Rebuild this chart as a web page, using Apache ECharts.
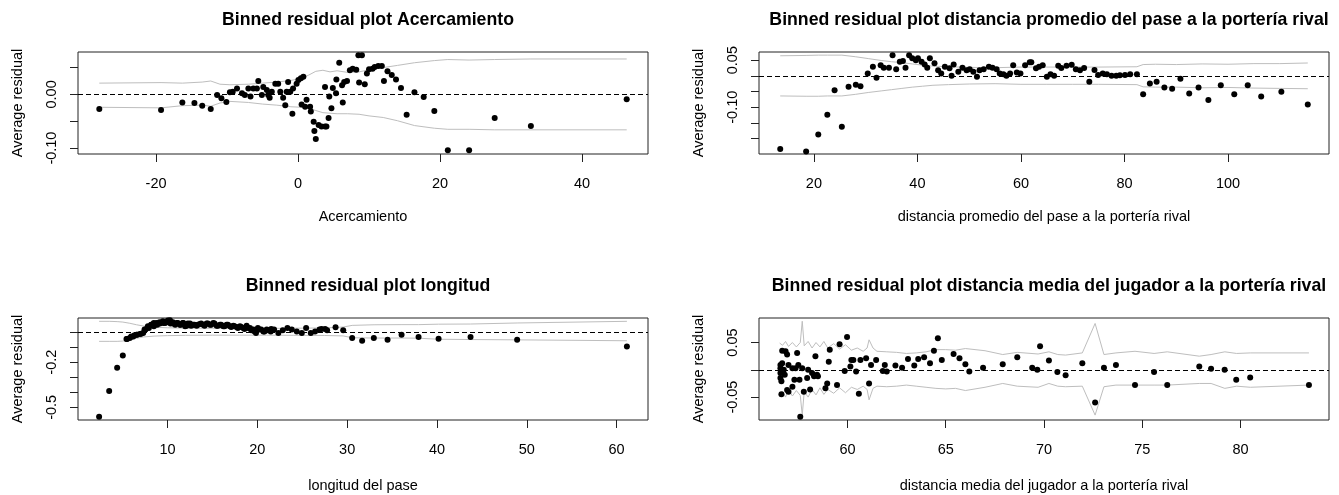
<!DOCTYPE html>
<html>
<head>
<meta charset="utf-8">
<script src="https://cdn.jsdelivr.net/npm/echarts@6/dist/echarts.min.js"></script>
<style>html,body{margin:0;padding:0;background:#fff;}#c{width:1339px;height:495px;}</style>
</head>
<body>
<div id="c"></div>
<script>
// ---------- Panel 1: Acercamiento ----------
const acerX = [-28.0,-19.3,-16.3,-14.6,-13.5,-12.3,-11.4,-10.8,-10.1,-9.6,-9.2,-8.6,-7.9,-7.5,-7.0,-6.7,-6.3,-5.8,-5.6,-5.1,-4.9,-4.4,-4.2,-4.0,-3.7,-3.2,-2.8,-2.5,-2.1,-1.8,-1.6,-1.4,-1.1,-0.8,-0.7,-0.2,0.05,0.4,0.75,0.5,1.0,1.2,1.7,1.8,2.2,2.3,2.5,2.9,3.3,3.8,4.0,4.3,3.8,4.4,4.7,4.9,5.35,5.4,5.8,6.3,6.2,6.5,6.9,7.3,7.7,8.2,8.5,9.0,8.6,9.4,9.7,10.0,10.5,10.8,11.3,11.8,12.1,12.6,13.2,13.8,14.5,15.3,16.4,17.7,19.2,21.1,24.1,27.7,32.8,46.3];
const acerY = [-0.027,-0.029,-0.015,-0.016,-0.021,-0.027,-0.001,-0.007,-0.014,0.004,0.005,0.011,0.002,-0.001,0.011,-0.004,0.011,0.011,0.025,-0.001,0.014,0.008,-0.001,-0.006,0.005,0.020,0.020,0.005,-0.006,-0.020,0.005,0.023,0.005,-0.036,0.011,0.020,0.027,0.030,0.033,-0.019,-0.023,-0.010,-0.023,-0.032,-0.051,-0.068,-0.083,-0.057,-0.060,-0.060,-0.060,-0.044,0.014,-0.004,-0.026,0.012,0.002,0.028,0.059,-0.015,0.017,0.023,0.025,0.045,0.048,0.046,0.073,0.073,0.022,0.019,0.039,0.047,0.048,0.051,0.053,0.053,0.025,0.043,0.036,0.028,0.012,-0.038,0.004,-0.005,-0.031,-0.104,-0.104,-0.044,-0.059,-0.009];
const acerBandX  = [-28,-19.3,-16.3,-13.5,-12.3,-11,-9.6,-7,-5,-3,-1,0.5,1.5,2.5,3.5,4.5,5.5,7,8.6,10,12,14,16.4,19.2,21.1,24.1,27.7,32.8,46.3];
const acerBandUp = [0.021,0.022,0.021,0.023,0.025,0.019,0.018,0.019,0.021,0.023,0.026,0.030,0.036,0.043,0.045,0.042,0.044,0.041,0.042,0.046,0.050,0.054,0.059,0.063,0.065,0.064,0.065,0.066,0.066];
const acerBandLo = [-0.024,-0.025,-0.021,-0.020,-0.022,-0.016,-0.013,-0.015,-0.018,-0.020,-0.023,-0.024,-0.026,-0.030,-0.034,-0.035,-0.036,-0.036,-0.037,-0.040,-0.043,-0.049,-0.058,-0.063,-0.065,-0.065,-0.066,-0.066,-0.066];
const acerXTicks = [-20,0,20,40];
const acerYTicks = [-0.10,-0.05,0,0.05];
const acerYLabels = [-0.10,0];

// ---------- Panel 2: distancia promedio del pase ----------
const paseX = [13.5,18.5,20.85,22.6,24.0,25.4,26.7,28.1,29.0,30.4,31.4,32.1,32.9,33.5,34.5,35.2,35.9,36.6,37.2,37.7,38.4,39.0,39.7,40.1,40.8,41.4,41.9,42.4,43.3,44.0,44.6,45.3,46.2,46.6,47.0,47.9,48.7,49.5,50.1,50.8,51.5,52.0,52.8,53.8,54.5,55.3,55.9,56.6,57.2,57.9,58.5,59.2,59.9,60.8,61.7,62.0,62.9,63.5,64.2,65.0,65.7,66.4,67.2,67.8,68.8,69.8,70.6,71.4,72.2,73.2,74.2,74.9,75.8,76.6,77.5,78.4,79.1,80.1,81.1,82.4,83.6,84.9,86.2,87.7,89.2,90.8,92.5,94.3,96.2,98.6,101.2,103.8,106.4,110.3,115.4];
const paseY = [-0.233,-0.241,-0.187,-0.124,-0.046,-0.162,-0.035,-0.028,-0.033,0.0075,0.029,-0.006,0.034,0.026,0.026,0.066,0.021,0.045,0.047,0.026,0.066,0.056,0.050,0.056,0.045,0.036,0.026,0.056,0.040,0.018,0.0075,0.029,0.024,0.0,0.036,0.013,0.026,0.018,0.021,0.013,-0.003,0.018,0.021,0.029,0.026,0.021,0.0075,0.005,0.0,0.0075,0.034,0.011,0.0075,0.034,0.043,0.043,0.024,0.029,0.034,-0.003,0.005,0.0,0.032,0.025,0.032,0.035,0.021,0.018,0.025,-0.019,0.019,0.003,0.0075,0.005,0.0,0.0,0.002,0.003,0.005,0.005,-0.059,-0.024,-0.019,-0.037,-0.041,-0.009,-0.056,-0.037,-0.077,-0.030,-0.059,-0.030,-0.066,-0.051,-0.091];
const paseBandX  = [13.5,18.5,20.85,22.6,25.4,28,30.5,33,35,37,39,41,43,46,50,55,60,65,70,75,82.4,83.6,86,90,95,100,105,110,115.4];
const paseBandUp = [0.064,0.065,0.066,0.066,0.066,0.061,0.055,0.049,0.045,0.042,0.038,0.034,0.031,0.029,0.027,0.026,0.028,0.028,0.028,0.028,0.029,0.036,0.037,0.036,0.038,0.037,0.039,0.039,0.041];
const paseBandLo = [-0.064,-0.065,-0.065,-0.064,-0.064,-0.059,-0.053,-0.048,-0.044,-0.040,-0.036,-0.033,-0.030,-0.028,-0.026,-0.025,-0.027,-0.027,-0.027,-0.027,-0.028,-0.035,-0.036,-0.036,-0.038,-0.037,-0.039,-0.040,-0.041];
const paseXTicks = [20,40,60,80,100];
const paseYTicks = [-0.25,-0.20,-0.15,-0.10,-0.05,0,0.05];
const paseYLabels = [-0.25,-0.10,0.05];

// ---------- Panel 3: longitud del pase ----------
const longX = [2.38,3.5,4.39,5.02,5.43,5.49,5.8,5.95,6.18,6.32,6.55,6.61,6.92,7.06,7.29,7.44,7.55,7.81,7.92,8.17,8.22,8.47,8.48,8.77,8.84,9.11,9.15,9.48,9.52,9.73,9.89,10.03,10.27,10.33,10.59,10.64,10.85,11.01,11.15,11.38,11.45,11.7,11.75,11.96,12.12,12.26,12.5,12.63,12.87,13.0,13.24,13.37,13.61,13.74,13.98,14.12,14.35,14.49,14.73,14.86,15.1,15.23,15.47,15.6,15.84,15.97,16.21,16.35,16.58,16.72,16.96,17.09,17.33,17.46,17.7,17.83,18.07,18.2,18.44,18.57,18.81,18.95,19.18,19.32,19.56,19.69,19.85,20.06,20.2,20.43,20.67,20.8,21.04,21.17,21.49,21.54,21.86,22.34,22.83,23.35,23.83,24.39,24.95,25.43,25.95,26.43,26.92,27.15,27.55,27.77,28.71,29.56,30.56,31.67,32.97,34.5,36.06,37.95,40.18,43.74,48.93,61.15];
const longY = [-0.562,-0.391,-0.238,-0.156,-0.047,-0.047,-0.040,-0.029,-0.029,-0.022,-0.018,-0.018,-0.013,-0.011,-0.007,0.016,0.016,0.038,0.027,0.049,0.049,0.060,0.038,0.060,0.049,0.064,0.056,0.071,0.060,0.060,0.064,0.076,0.078,0.056,0.064,0.056,0.049,0.060,0.060,0.049,0.049,0.060,0.060,0.038,0.042,0.056,0.056,0.042,0.049,0.049,0.042,0.049,0.053,0.056,0.049,0.042,0.056,0.056,0.049,0.049,0.060,0.056,0.042,0.042,0.049,0.049,0.038,0.038,0.049,0.049,0.038,0.033,0.042,0.038,0.033,0.027,0.038,0.033,0.027,0.020,0.042,0.027,0.027,0.011,0.016,0.004,-0.007,0.027,0.016,0.016,0.004,0.004,0.016,0.011,0.004,0.020,0.016,-0.007,0.011,0.027,0.016,0.004,-0.007,0.027,-0.007,0.004,0.016,0.020,0.020,0.011,0.031,0.011,-0.040,-0.058,-0.040,-0.051,-0.018,-0.033,-0.044,-0.033,-0.051,-0.096];
const longBandX  = [2.38,3.5,4.39,5.02,5.8,6.55,7.29,8.5,10,12,15,18,21,24,27.5,29.56,30.56,33,36,37.95,40.18,43.74,48.93,61.15];
const longBandUp = [0.071,0.071,0.069,0.066,0.058,0.048,0.040,0.032,0.028,0.026,0.025,0.025,0.024,0.025,0.027,0.033,0.044,0.048,0.049,0.049,0.052,0.053,0.060,0.071];
const longBandLo = [-0.062,-0.062,-0.062,-0.060,-0.052,-0.042,-0.033,-0.027,-0.024,-0.022,-0.021,-0.021,-0.021,-0.022,-0.023,-0.026,-0.038,-0.040,-0.040,-0.041,-0.048,-0.050,-0.052,-0.058];
const longXTicks = [10,20,30,40,50,60];
const longYTicks = [-0.5,-0.4,-0.3,-0.2,-0.1,0];
const longYLabels = [-0.5,-0.2];

// ---------- Panel 4: distancia media del jugador ----------
const jugX = [56.64,56.68,56.85,56.93,56.59,56.59,56.59,56.59,56.64,56.68,56.76,56.81,57.0,57.0,56.93,57.2,57.3,57.2,57.36,57.44,57.5,57.56,57.6,57.7,57.78,58.1,57.95,58.0,58.2,58.3,58.45,58.5,58.37,58.88,58.97,59.05,59.1,59.47,59.6,59.86,59.98,60.15,60.2,60.3,60.44,60.58,60.66,60.95,61.1,61.2,61.46,61.8,61.9,62.0,62.44,62.78,63.08,63.4,63.6,63.9,64.2,64.4,64.6,64.8,65.4,65.7,66.0,66.2,66.9,67.9,68.64,69.4,69.66,69.8,70.25,70.68,71.1,71.95,72.6,73.05,73.66,74.63,75.6,76.27,77.9,78.5,79.19,79.78,80.49,83.48];
const jugY = [-0.045,0.035,0.034,0.028,0.009,0.003,-0.006,-0.015,-0.021,0.012,0.0,-0.009,0.009,-0.040,-0.037,-0.031,-0.018,0.003,0.003,0.031,0.009,-0.018,-0.086,0.003,-0.040,-0.036,-0.015,0.0,-0.006,-0.012,-0.009,-0.012,0.025,-0.034,-0.025,0.015,0.037,-0.028,0.047,-0.002,0.060,0.006,0.018,0.018,-0.003,-0.044,0.018,0.021,-0.025,0.009,0.018,-0.002,0.009,-0.003,0.008,0.004,0.020,0.008,0.020,0.023,0.012,0.035,0.058,0.018,0.029,0.021,0.010,-0.003,0.004,0.010,0.023,0.004,0.0,0.043,0.017,-0.004,-0.010,0.012,-0.060,0.004,0.009,-0.028,-0.004,-0.028,0.006,0.002,0.0,-0.018,-0.014,-0.028];
const jugBandX  = [56.55,56.7,56.85,57.0,57.2,57.4,57.6,57.7,57.8,58.0,58.2,58.4,58.6,58.8,59.0,59.3,59.6,59.9,60.2,60.5,60.8,61.0,61.1,61.3,61.5,62,62.5,63,63.5,64,64.5,65,65.5,66,67,67.9,68.64,69.7,70.25,70.7,71.1,71.95,72.6,73.05,73.66,74.63,75.6,76.27,77.9,78.5,79.2,79.8,80.5,83.48];
const jugBandUp = [0.049,0.045,0.052,0.043,0.050,0.042,0.050,0.089,0.044,0.052,0.040,0.050,0.042,0.052,0.040,0.048,0.038,0.046,0.036,0.040,0.034,0.040,0.055,0.040,0.034,0.033,0.032,0.030,0.031,0.033,0.037,0.037,0.036,0.039,0.035,0.028,0.032,0.029,0.033,0.028,0.027,0.031,0.085,0.028,0.031,0.034,0.030,0.033,0.025,0.028,0.033,0.030,0.031,0.031];
const jugBandLo = [-0.049,-0.040,-0.050,-0.036,-0.048,-0.038,-0.047,-0.083,-0.040,-0.050,-0.036,-0.046,-0.033,-0.045,-0.036,-0.043,-0.033,-0.042,-0.032,-0.036,-0.030,-0.036,-0.055,-0.034,-0.030,-0.031,-0.030,-0.028,-0.030,-0.032,-0.034,-0.035,-0.034,-0.038,-0.032,-0.025,-0.030,-0.032,-0.025,-0.030,-0.031,-0.030,-0.083,-0.031,-0.028,-0.028,-0.028,-0.028,-0.025,-0.025,-0.034,-0.030,-0.032,-0.028];
const jugXTicks = [60,65,70,75,80];
const jugYTicks = [-0.05,0,0.05];
const jugYLabels = [-0.05,0.05];

// ---------- layout / build ----------
const FONT = 'Liberation Sans, Arial, Helvetica, sans-serif';
const panels = [
  {title:'Binned residual plot Acercamiento', xname:'Acercamiento', x:acerX, y:acerY, bx:acerBandX, bu:acerBandUp, bl:acerBandLo, xt:acerXTicks, yt:acerYTicks, yl:acerYLabels, xr:[-31.0,49.3], yr:[-0.111,0.079], dec:2, left:78, top:52, ng:55},
  {title:'Binned residual plot distancia promedio del pase a la portería rival', xname:'distancia promedio del pase a la portería rival', x:paseX, y:paseY, bx:paseBandX, bu:paseBandUp, bl:paseBandLo, xt:paseXTicks, yt:paseYTicks, yl:paseYLabels, xr:[9.4,119.5], yr:[-0.249,0.076], dec:2, left:759, top:52, ng:55},
  {title:'Binned residual plot longitud', xname:'longitud del pase', x:longX, y:longY, bx:longBandX, bu:longBandUp, bl:longBandLo, xt:longXTicks, yt:longYTicks, yl:longYLabels, xr:[0.03,63.5], yr:[-0.584,0.093], dec:1, left:78, top:318, ng:58},
  {title:'Binned residual plot distancia media del jugador a la portería rival', xname:'distancia media del jugador a la portería rival', x:jugX, y:jugY, bx:jugBandX, bu:jugBandUp, bl:jugBandLo, xt:jugXTicks, yt:jugYTicks, yl:jugYLabels, xr:[55.5,84.5], yr:[-0.092,0.095], dec:2, left:759, top:318, ng:58}
];
const W = 570, H = 102;
const option = {animation:false, backgroundColor:'#fff', title:[], grid:[], xAxis:[], yAxis:[], series:[]};
panels.forEach((p,i)=>{
  option.title.push({text:p.title, left:p.left + W/2, top:p.top - 46, textAlign:'center',
    textStyle:{fontFamily:FONT, fontSize:17.7, fontWeight:'bold', color:'#000'}});
  option.grid.push({left:p.left, top:p.top, width:W, height:H, show:true, borderColor:'#222', borderWidth:1, backgroundColor:'transparent'});
  option.xAxis.push({gridIndex:i, type:'value', min:p.xr[0], max:p.xr[1], position:'bottom',
    axisLine:{show:false, onZero:false}, splitLine:{show:false},
    axisTick:{show:true, inside:false, length:8, lineStyle:{color:'#222'}, customValues:p.xt},
    axisLabel:{customValues:p.xt, margin:22, fontFamily:FONT, fontSize:14.5, color:'#000', formatter:v=>String(Math.round(v))},
    name:p.xname, nameLocation:'middle', nameGap:p.ng, nameTextStyle:{fontFamily:FONT, fontSize:14.5, color:'#000'}});
  option.yAxis.push({gridIndex:i, type:'value', min:p.yr[0], max:p.yr[1], position:'left',
    axisLine:{show:false, onZero:false}, splitLine:{show:false},
    axisTick:{show:true, inside:false, length:8, lineStyle:{color:'#222'}, customValues:p.yt},
    axisLabel:{customValues:p.yl, rotate:90, margin:19, fontFamily:FONT, fontSize:14.5, color:'#000', formatter:v=>Number(v).toFixed(p.dec)},
    name:'Average residual', nameLocation:'middle', nameGap:53, nameRotate:90, nameTextStyle:{fontFamily:FONT, fontSize:14.5, color:'#000'}});
  const bandStyle = {color:'#bebebe', width:1};
  option.series.push({type:'line', xAxisIndex:i, yAxisIndex:i, data:p.bx.map((x,k)=>[x,p.bu[k]]), showSymbol:false, symbol:'none', lineStyle:bandStyle, silent:true, z:1});
  option.series.push({type:'line', xAxisIndex:i, yAxisIndex:i, data:p.bx.map((x,k)=>[x,p.bl[k]]), showSymbol:false, symbol:'none', lineStyle:bandStyle, silent:true, z:1});
  option.series.push({type:'scatter', xAxisIndex:i, yAxisIndex:i, data:p.x.map((x,k)=>[x,p.y[k]]), symbol:'circle', symbolSize:6, itemStyle:{color:'#000', opacity:1}, z:3,
    markLine:{silent:true, symbol:'none', label:{show:false}, lineStyle:{color:'#000', type:[5,3], width:1}, data:[{yAxis:0}]}});
});
const chart = echarts.init(document.getElementById('c'), null, {renderer:'canvas'});
chart.setOption(option);
</script>
</body>
</html>
